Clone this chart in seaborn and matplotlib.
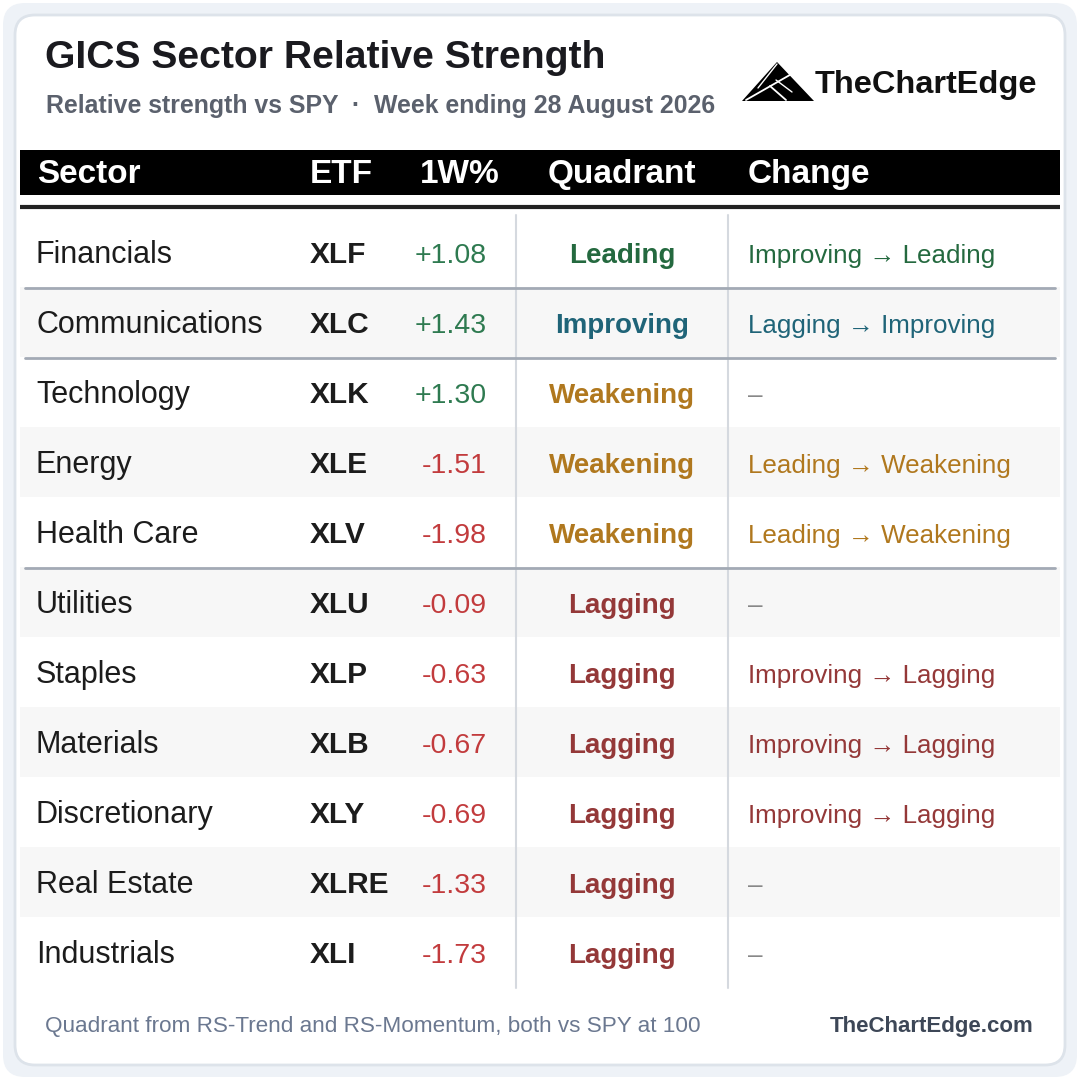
import matplotlib
matplotlib.use('Agg')
import matplotlib.pyplot as plt
from matplotlib.patches import FancyBboxPatch, Rectangle, Polygon
import seaborn as sns

# table data
sectors = ['Financials', 'Communications', 'Technology', 'Energy', 'Health Care',
           'Utilities', 'Staples', 'Materials', 'Discretionary', 'Real Estate', 'Industrials']
etfs = ['XLF', 'XLC', 'XLK', 'XLE', 'XLV', 'XLU', 'XLP', 'XLB', 'XLY', 'XLRE', 'XLI']
week_pct = [1.08, 1.43, 1.30, -1.51, -1.98, -0.09, -0.63, -0.67, -0.69, -1.33, -1.73]
quadrants = ['Leading', 'Improving', 'Weakening', 'Weakening', 'Weakening',
             'Lagging', 'Lagging', 'Lagging', 'Lagging', 'Lagging', 'Lagging']
prev_quadrants = ['Improving', 'Lagging', None, 'Leading', 'Leading',
                  None, 'Improving', 'Improving', 'Improving', None, None]
headers = ['Sector', 'ETF', '1W%', 'Quadrant', 'Change']

quad_colors = {'Leading': '#24693f', 'Improving': '#1f6478',
               'Weakening': '#b0781e', 'Lagging': '#943838'}
pos_color = '#2e7a50'
neg_color = '#c23b3d'

sns.set_theme(style='white')
plt.rcParams['font.family'] = ['Liberation Sans', 'DejaVu Sans']

fig = plt.figure(figsize=(10.8, 10.8), dpi=100)
ax = fig.add_axes([0, 0, 1, 1])
ax.set_xlim(0, 1080)
ax.set_ylim(1080, 0)
ax.axis('off')

# background + card
ax.add_patch(FancyBboxPatch((3, 3), 1074, 1074, boxstyle='round,pad=0,rounding_size=22',
                            fc='#eef2f7', ec='none', zorder=0.5))
ax.add_patch(FancyBboxPatch((15, 15), 1050, 1050, boxstyle='round,pad=0,rounding_size=20',
                            fc='white', ec='#dde3ea', lw=2, zorder=0.6))

# title block
ax.text(45, 68, 'GICS Sector Relative Strength', fontsize=28.2, fontweight='bold',
        color='#1a1a1f', va='baseline')
ax.text(46, 113, 'Relative strength vs SPY  \u00b7  Week ending 28 August 2026', fontsize=17.9,
        fontweight='bold', color='#5b616d', va='baseline')

# logo
ax.add_patch(Polygon([(742, 101), (777, 62), (814, 101)], closed=True, fc='black', ec='none'))
ax.plot([746, 795], [100, 72], color='white', lw=1.3)
ax.plot([770, 786], [86, 100], color='white', lw=1.3)
ax.plot([776, 792], [80, 92], color='white', lw=1.0)
ax.plot([758, 777], [88, 64], color='white', lw=1.0)
ax.text(815, 93, 'TheChartEdge', fontsize=23.4, fontweight='bold', color='#111111',
        va='baseline')

# header bar
col_x = [36, 310, 487, 622, 748]
col_ha = ['left', 'left', 'right', 'center', 'left']
ax.add_patch(Rectangle((20, 150), 1040, 45, fc='black', ec='none'))
header_x = [37, 310, 500, 622, 748]
for h, x, ha in zip(headers, header_x, col_ha):
    ax.text(x, 183, h, fontsize=24, fontweight='bold', color='white', ha=ha, va='baseline')
ax.plot([20, 1060], [207, 207], color='#222222', lw=3, solid_capstyle='butt')

# rows
row_top = 217
row_h = 70
for i in range(len(sectors)):
    top = row_top + i * row_h
    mid = top + row_h / 2
    base = mid + 11
    if i % 2 == 1:
        ax.add_patch(Rectangle((20, top), 1040, row_h, fc='#f7f7f7', ec='none', zorder=1))
    ax.text(col_x[0], base, sectors[i], fontsize=22, color='#1c1c1c', va='baseline')
    ax.text(col_x[1], base, etfs[i], fontsize=21.5, fontweight='bold', color='#1c1c1c',
            va='baseline')
    v = week_pct[i]
    ax.text(col_x[2], base, f'{v:+.2f}', fontsize=20.5,
            color=pos_color if v >= 0 else neg_color, ha='right', va='baseline')
    qc = quad_colors[quadrants[i]]
    ax.text(col_x[3], base, quadrants[i], fontsize=20, fontweight='bold', color=qc,
            ha='center', va='baseline')
    if prev_quadrants[i] is None:
        ax.text(col_x[4], base, '\u2013', fontsize=18.7, color='#888888', va='baseline')
    else:
        ax.text(col_x[4], base, f'{prev_quadrants[i]} \u2192 {quadrants[i]}', fontsize=18.7,
                color=qc, va='baseline')
    # group separator
    if i < len(sectors) - 1 and quadrants[i] != quadrants[i + 1]:
        ax.plot([25, 1055], [top + row_h + 1, top + row_h + 1], color='#a3aab5', lw=2,
                zorder=3)

# column dividers
for x in [516, 728]:
    ax.plot([x, x], [215, 988], color='#d5d9df', lw=1.5, zorder=2)

# footer
ax.text(45, 1032, 'Quadrant from RS-Trend and RS-Momentum, both vs SPY at 100', fontsize=16.2,
        color='#6b7890', va='baseline')
ax.text(1034, 1032, 'TheChartEdge.com', fontsize=16, fontweight='bold', color='#3d4757',
        ha='right', va='baseline')

fig.savefig('out.png', dpi=100)
